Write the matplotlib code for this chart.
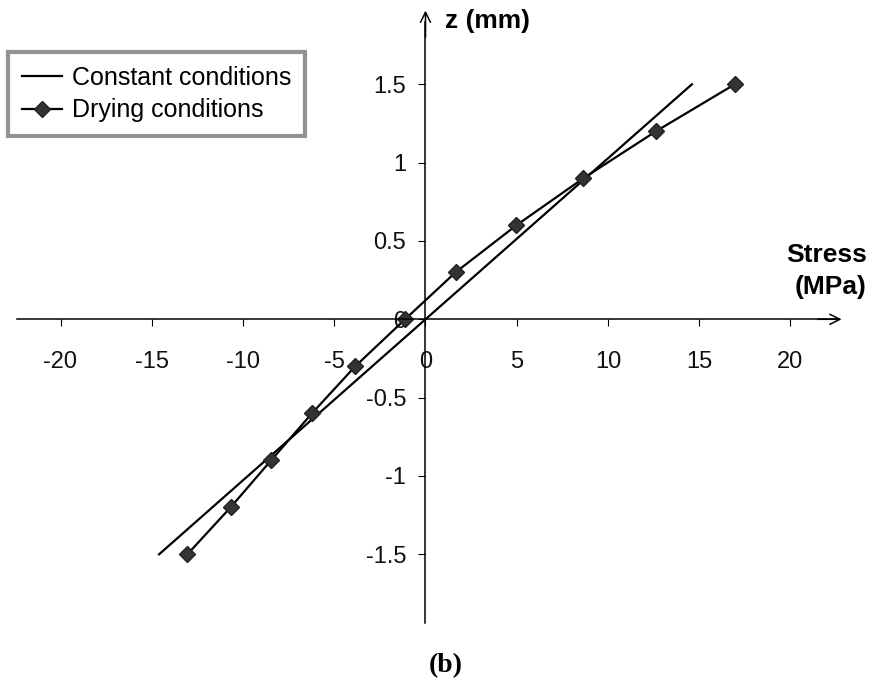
import matplotlib.pyplot as plt
import numpy as np

# stress profile through the thickness
stress_drying = [-13.05, -10.68, -8.46, -6.22, -3.85, -1.12, 1.65, 4.98, 8.65, 12.63, 16.95]
z_drying = [-1.5, -1.2, -0.9, -0.6, -0.3, 0.0, 0.3, 0.6, 0.9, 1.2, 1.5]

stress_constant = [-14.6, 14.6]
z_constant = [-1.5, 1.5]

x_ticks = [-20, -15, -10, -5, 0, 5, 10, 15, 20]
y_ticks = [-1.5, -1, -0.5, 0, 0.5, 1, 1.5]

plt.rcParams['font.family'] = ['Liberation Sans', 'DejaVu Sans']

W, H = 870, 684
fig = plt.figure(figsize=(W / 100, H / 100), dpi=100)
ax = fig.add_axes([0, 0, 1, 1])

# pixel -> data mapping: origin at (425.5, 319.3), 18.25 px / MPa, 156.7 px / mm
ax.set_xlim(-425.5 / 18.25, (W - 425.5) / 18.25)
ax.set_ylim((319.3 - H) / 156.7, 319.3 / 156.7)

ax.plot(stress_constant, z_constant, color="black", lw=1.6, label="Constant conditions")
ax.plot(stress_drying, z_drying, color="black", lw=1.6, marker="D", markersize=8.5,
        markerfacecolor="#333333", markeredgecolor="#222222", label="Drying conditions")

# axes through the origin
for s in ["top", "right"]:
    ax.spines[s].set_visible(False)
ax.spines["left"].set_position(("data", 0))
ax.spines["bottom"].set_position(("data", 0))
ax.spines["bottom"].set_bounds(-22.4, 22.6)
ax.spines["left"].set_bounds(-1.94, 1.9)
for s in ["left", "bottom"]:
    ax.spines[s].set_linewidth(1.1)

ax.annotate("", xy=(22.8, 0), xytext=(21.5, 0),
            arrowprops=dict(arrowstyle="->", lw=1.1, mutation_scale=18, shrinkA=0, shrinkB=0))
ax.annotate("", xy=(0, 1.97), xytext=(0, 1.8),
            arrowprops=dict(arrowstyle="->", lw=1.1, mutation_scale=18, shrinkA=0, shrinkB=0))

ax.set_xticks(x_ticks)
ax.set_yticks(y_ticks)
ax.set_xticklabels([f"{v:g}" for v in x_ticks])
ax.set_yticklabels([f"{v:g}" for v in y_ticks])
ax.tick_params(axis="x", direction="out", length=5, width=0.8, pad=18, labelsize=17, labelcolor="#111111")
ax.tick_params(axis="y", direction="out", length=5, width=0.8, pad=9, labelsize=17, labelcolor="#111111")

fig.text(445 / W, 1 - 21 / H, "z (mm)", fontsize=19, fontweight="bold", ha="left", va="center")
fig.text(867 / W, 1 - 271 / H, "Stress\n(MPa)", fontsize=19, fontweight="bold",
         ha="right", va="center", multialignment="right", linespacing=1.4)
fig.text(446 / W, 1 - 666 / H, "(b)", fontsize=20, fontweight="bold", family="Liberation Serif",
         ha="center", va="center")

leg = ax.legend(loc="upper left", bbox_to_anchor=(8 / W, 1 - 52 / H), bbox_transform=fig.transFigure,
                fontsize=18, frameon=True, fancybox=False, shadow=False, borderaxespad=0,
                handlelength=1.6, handletextpad=0.4, labelspacing=0.35, borderpad=0.55, numpoints=1)
leg.get_frame().set_edgecolor("#777777")
leg.get_frame().set_linewidth(3)

fig.savefig("out.png", dpi=100)
